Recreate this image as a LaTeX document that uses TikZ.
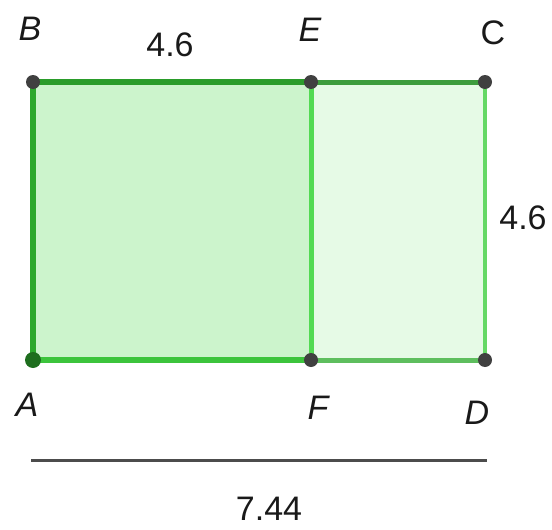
\documentclass[tikz,border=0pt]{standalone}
\usepackage{fontspec}
\setmainfont{Liberation Sans}
\definecolor{fillL}{HTML}{CCF4CC}
\definecolor{fillR}{HTML}{E6FAE6}
\definecolor{gA}{HTML}{2CA82C}
\definecolor{gB}{HTML}{2A9C2A}
\definecolor{gC}{HTML}{3CC43C}
\definecolor{gD}{HTML}{52DA52}
\definecolor{gE}{HTML}{3D9C3D}
\definecolor{gF}{HTML}{66D866}
\definecolor{gG}{HTML}{5EBE5E}
\definecolor{dotgray}{HTML}{404040}
\definecolor{dotgreen}{HTML}{1E6E1E}
\tikzset{
  lbl/.style={font=\fontsize{34}{38}\selectfont\itshape, inner sep=0pt, text=black!90},
  num/.style={font=\fontsize{34}{38}\selectfont, inner sep=0pt, text=black!90},
  pt/.style={circle, fill=dotgray, inner sep=0pt, minimum size=14pt},
  seg/.style={line width=6pt}
}
\begin{document}
\begin{tikzpicture}[x=1pt,y=-1pt]
\useasboundingbox (0,0) rectangle (552,530);
\coordinate (B) at (33,82);
\coordinate (E) at (311,82);
\coordinate (C) at (485,82);
\coordinate (A) at (33,360);
\coordinate (F) at (311,360);
\coordinate (D) at (485,360);
\fill[fillL] (A) rectangle (E);
\fill[fillR] (F) rectangle (C);
\draw[seg, gG, line width=5pt] (F) -- (D);
\draw[seg, gF, line width=4.5pt] (D) -- (C);
\draw[seg, gE, line width=5pt] (E) -- (C);
\draw[seg, gD, line width=5pt] (E) -- (F);
\draw[seg, gC] (A) -- (F);
\draw[seg, gA] (A) -- (B);
\draw[seg, gB] (B) -- (E);
\node[pt] (pB) at (B) {};
\node[pt] (pE) at (E) {};
\node[pt] (pC) at (C) {};
\node[pt] (pF) at (F) {};
\node[pt] (pD) at (D) {};
\node[pt, fill=dotgreen, minimum size=16pt] (pA) at (A) {};
\node[lbl] (lB) at (30,29) {B};
\node[lbl] (lE) at (310,30) {E};
\node[num] (lC) at (493,33) {C};
\node[lbl] (lA) at (27,405) {A};
\node[lbl] (lF) at (318,408) {F};
\node[lbl] (lD) at (477,413) {D};
\node[num] (t1) at (170,45) {4.6};
\node[num] (t2) at (523,218) {4.6};
\coordinate (L1) at (31,460);
\coordinate (L2) at (487,460);
\draw[line width=3pt, black!70] (L1) -- (L2);
\node[num] (t3) at (269,509) {7.44};
\end{tikzpicture}
\end{document}
